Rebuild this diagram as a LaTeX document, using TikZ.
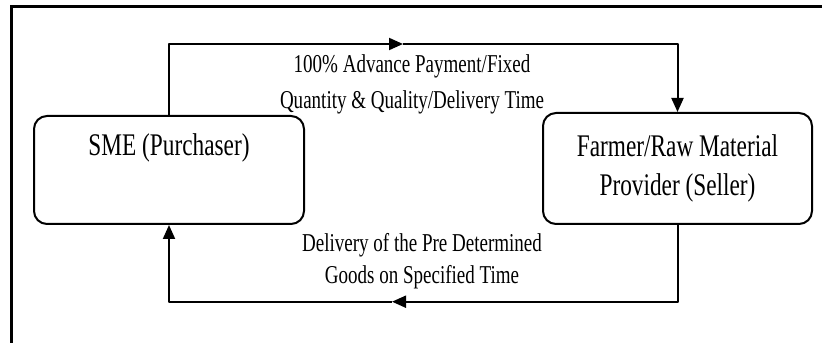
\documentclass[tikz,border=0pt]{standalone}
\usepackage{fontspec}
\setmainfont{Liberation Serif}[FakeStretch=0.74]
\usetikzlibrary{arrows.meta}
\begin{document}
\begin{tikzpicture}[>={Triangle[length=14bp,width=12bp]},line join=bevel,
  party/.style={draw,line width=2bp,rounded corners=13bp,align=center,inner sep=0bp,font=\fontsize{31.6}{40}\selectfont},
  terms/.style={align=center,inner sep=0bp,font=\fontsize{25.8}{36}\selectfont},
  flow/.style={line width=2bp,->},]
%%
\useasboundingbox (0bp,0bp) rectangle (822bp,343bp);
\draw [line width=3bp,line join=miter] (11.3bp,0bp) -- (11.3bp,336bp) -- (822bp,336bp);
\node (node_0) at (169.0bp,173.0bp) [party,minimum width=270bp,minimum height=108bp] {SME (Purchaser)\\\strut};
  \node (node_1) at (677.5bp,174.5bp) [party,minimum width=269bp,minimum height=111bp] {Farmer/Raw Material\\Provider (Seller)};
  \node (node_2) at (412.0bp,259.0bp) [terms] {100\% Advance Payment/Fixed\\Quantity \& Quality/Delivery Time};
  \node (node_3) at (422.0bp,81.5bp) [terms,font=\fontsize{25.8}{32}\selectfont] {Delivery of the Pre Determined\\Goods on Specified Time};
  \coordinate (turn_0) at (403.0bp,299.0bp);
  \coordinate (turn_1) at (392.0bp,41.3bp);
  \draw [flow] (node_0) |- (turn_0);
  \draw [flow] (turn_0) -| (node_1);
  \draw [flow] (node_1) |- (turn_1);
  \draw [flow] (turn_1) -| (node_0);
%
\end{tikzpicture}
\end{document}
